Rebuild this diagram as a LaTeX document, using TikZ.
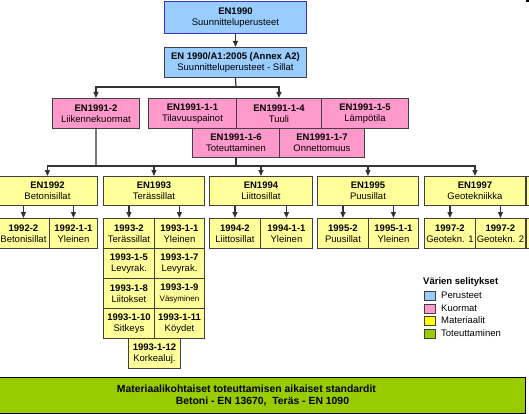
\documentclass[tikz,border=0pt]{standalone}
\usepackage{fontspec}
\setmainfont{Liberation Sans}
\usetikzlibrary{arrows.meta}
\definecolor{cblue}{HTML}{99CCFF}
\definecolor{cpink}{HTML}{FF99CC}
\definecolor{cyel}{HTML}{FFFF99}
\definecolor{cyelb}{HTML}{FFFF00}
\definecolor{cgreen}{HTML}{99CC00}
\definecolor{bordc}{HTML}{404040}
\definecolor{bluebord}{HTML}{3333CC}
\definecolor{linec}{HTML}{333333}
\newcommand{\fsn}{\fontsize{9.5}{11}\selectfont}
\newcommand{\mybox}[8]{\node[bx, fill=#6, minimum width=#4pt, minimum height=#5pt] (#1) at (#2,#3) {\textbf{#7}\\#8};}
\tikzset{
  bx/.style={draw=bordc, line width=0.9pt, anchor=north west, inner sep=0pt, align=center, font=\fsn},
  arr/.style={draw=linec, line width=1.2pt, -{Triangle[width=5pt,length=6pt]}},
  ln/.style={draw=linec, line width=1.2pt},
  sw/.style={draw=bordc, line width=0.8pt, anchor=north west, minimum width=11pt, minimum height=9pt, inner sep=0pt},
  lg/.style={anchor=west, inner sep=0pt, font=\fsn},
}
\begin{document}
\begin{tikzpicture}[x=1pt,y=-1pt]
\clip (0,0) rectangle (529,414);
\fill[white] (0,0) rectangle (529,414);
% top
\node[bx, fill=cblue, draw=bluebord, minimum width=142pt, minimum height=32pt] (en1990) at (164,1) {\textbf{EN1990}\\Suunnitteluperusteet};
\mybox{a2}{164}{47}{142}{30}{cblue}{EN 1990/A1:2005 (Annex A2)}{Suunnitteluperusteet - Sillat}
% loads
\mybox{l2}{52}{98}{87}{30}{cpink}{EN1991-2}{Liikennekuormat}
\mybox{l11}{148}{98}{88}{30}{cpink}{EN1991-1-1}{Tilavuuspainot}
\mybox{l14}{236}{98}{85}{30}{cpink}{EN1991-1-4}{Tuuli}
\mybox{l15}{321}{98}{87}{30}{cpink}{EN1991-1-5}{Lämpötila}
\mybox{l16}{192}{128}{87}{29}{cpink}{EN1991-1-6}{Toteuttaminen}
\mybox{l17}{279}{128}{85}{29}{cpink}{EN1991-1-7}{Onnettomuus}
% materials
\mybox{e1992}{-3}{176}{100}{29}{cyel}{EN1992}{Betonisillat}
\mybox{e1993}{103}{176}{101}{29}{cyel}{EN1993}{Terässillat}
\mybox{e1994}{209}{176}{103}{29}{cyel}{EN1994}{Liittosillat}
\mybox{e1995}{317}{176}{101}{29}{cyel}{EN1995}{Puusillat}
\mybox{e1997}{424}{176}{101}{29}{cyel}{EN1997}{Geotekniikka}
\node[bx, fill=cyel, minimum width=40pt, minimum height=29pt] (ex1) at (526,176) {};
% sub parts
\mybox{s19922}{-3}{218}{52}{30}{cyel}{1992-2}{Betonisillat}
\mybox{s199211}{49}{218}{48}{30}{cyel}{1992-1-1}{Yleinen}
\mybox{s19932}{103}{218}{51}{30}{cyel}{1993-2}{Terässillat}
\mybox{s199311}{154}{218}{50}{30}{cyel}{1993-1-1}{Yleinen}
\mybox{s19942}{209}{218}{51}{30}{cyel}{1994-2}{Liittosillat}
\mybox{s199411}{260}{218}{52}{30}{cyel}{1994-1-1}{Yleinen}
\mybox{s19952}{317}{218}{51}{30}{cyel}{1995-2}{Puusillat}
\mybox{s199511}{368}{218}{50}{30}{cyel}{1995-1-1}{Yleinen}
\mybox{s19972a}{424}{218}{51}{30}{cyel}{1997-2}{Geotekn. 1}
\mybox{s19972b}{475}{218}{50}{30}{cyel}{1997-2}{Geotekn. 2}
\node[bx, fill=cyel, minimum width=40pt, minimum height=30pt] (ex2) at (526,218) {};
\mybox{s199315}{103}{248}{51}{30}{cyel}{1993-1-5}{Levyrak.}
\mybox{s199317}{154}{248}{50}{30}{cyel}{1993-1-7}{Levyrak.}
\mybox{s199318}{103}{278}{51}{30}{cyel}{1993-1-8}{Liitokset}
\mybox{s199319}{154}{278}{50}{30}{cyel}{1993-1-9}{{\fontsize{8}{11}\selectfont Väsyminen}}
\mybox{s1993110}{103}{308}{51}{30}{cyel}{1993-1-10}{Sitkeys}
\mybox{s1993111}{154}{308}{50}{30}{cyel}{1993-1-11}{Köydet}
\mybox{s1993112}{128}{338}{52}{30}{cyel}{1993-1-12}{Korkealuj.}
% execution
\node[bx, fill=cgreen, draw=black, minimum width=526pt, minimum height=36pt, font=\bfseries\fontsize{10.4}{12}\selectfont] (green) at (-1,377) {Materiaalikohtaiset toteuttamisen aikaiset standardit\hspace*{32pt}\\Betoni - EN 13670,\ \ Teräs - EN 1090};
\fill[black] (526,0) rectangle (529,1.6);
% connectors
\draw[arr] (en1990.south) -- (a2.north);
\coordinate (b1) at (236,87);
\draw[ln] (a2.south) -- (b1);
\draw[arr] (b1) -| (l2.north);
\draw[arr] (b1) -| (l14.north);
\coordinate (b2) at (96,166);
\draw[ln] (l2.south) -- (b2);
\draw[ln] (l16.south) -- (l16.south |- b2);
\draw[arr] (b2) -| (e1992.north);
\draw[arr] (b2) -| (e1993.north);
\draw[arr] (b2) -| (e1994.north);
\draw[arr] (b2) -| (e1995.north);
\draw[arr] (b2) -| (e1997.north);
\foreach \p/\c in {e1992/s19922, e1992/s199211, e1993/s19932, e1993/s199311, e1994/s19942, e1994/s199411, e1995/s19952, e1995/s199511, e1997/s19972a, e1997/s19972b}
  \draw[arr] (\p.south -| \c.north) -- (\c.north);
% legend
\node[lg, font=\bfseries\fsn] (lgt) at (423,282) {Värien selitykset};
\node[sw, fill=cblue] (sw1) at (424,291) {};
\node[sw, fill=cpink] (sw2) at (424,303.5) {};
\node[sw, fill=cyelb] (sw3) at (424,316) {};
\node[sw, fill=cgreen] (sw4) at (424,328.5) {};
\node[lg] (lg1) at (441,295.5) {Perusteet};
\node[lg] (lg2) at (441,308) {Kuormat};
\node[lg] (lg3) at (441,320.5) {Materiaalit};
\node[lg] (lg4) at (441,333) {Toteuttaminen};
\end{tikzpicture}
\end{document}
